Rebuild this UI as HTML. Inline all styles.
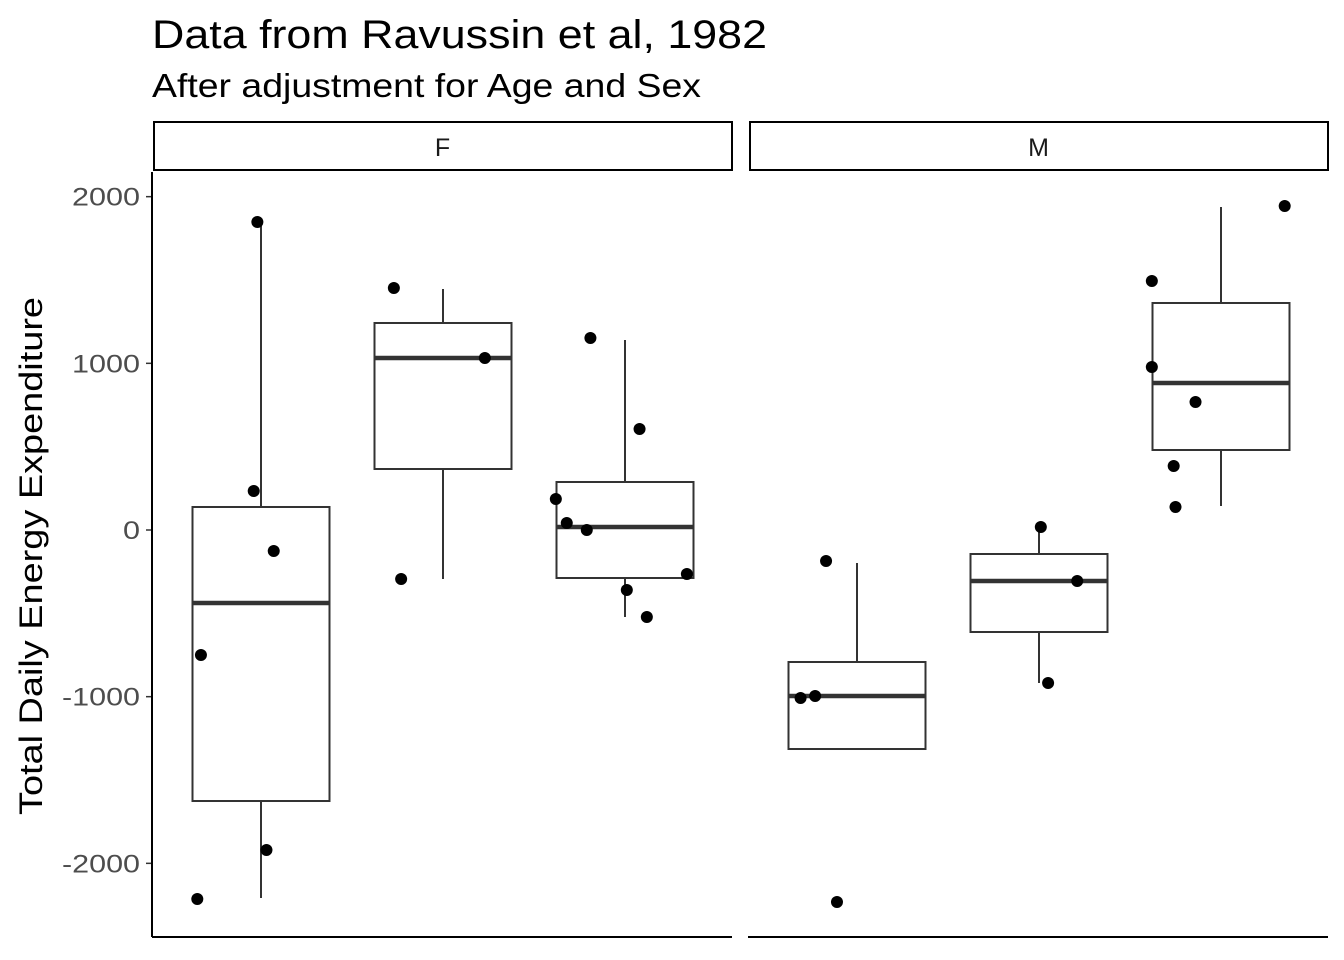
<!DOCTYPE html>
<html><head><meta charset="utf-8"><style>
html,body{margin:0;padding:0;background:#fff;}
svg{display:block;font-family:"Liberation Sans",Arial,sans-serif;}
</style></head><body>
<svg id="chart" width="1344" height="960" viewBox="0 0 1344 960">
<text x="152" y="48" font-size="40" textLength="615" lengthAdjust="spacingAndGlyphs" fill="#000">Data from Ravussin et al, 1982</text>
<text x="152" y="97" font-size="33" textLength="549" lengthAdjust="spacingAndGlyphs" fill="#000">After adjustment for Age and Sex</text>
<text transform="translate(42,556) rotate(-90)" text-anchor="middle" font-size="32" textLength="518" lengthAdjust="spacingAndGlyphs" fill="#000">Total Daily Energy Expenditure</text>
<g id="plot"></g>
</svg>
<script>
const panels = ["F","M"];
const yTicks = [2000,1000,0,-1000,-2000];
// per panel: 3 boxes each [lowerWhisker, q1, median, q3, upperWhisker]
const boxesF = [[-2208,-1626,-438,138,1848],[-294,366,1032,1242,1446],[-522,-288,18,288,1140]];
const boxesM = [[-1314,-1314,-996,-792,-198],[-918,-612,-306,-144,18],[144,480,882,1362,1938]];
// points: [group, jitter (category units), value]
const pointsF = [[0,-0.02,1848],[0,-0.04,234],[0,0.07,-126],[0,-0.33,-750],[0,0.03,-1920],[0,-0.35,-2214],
 [1,-0.27,1452],[1,0.23,1032],[1,-0.23,-294],
 [2,-0.19,1152],[2,0.08,606],[2,-0.38,186],[2,-0.32,42],[2,-0.21,0],[2,0.01,-360],[2,0.12,-522],[2,0.34,-264]];
const pointsM = [[0,-0.17,-186],[0,-0.31,-1008],[0,-0.23,-996],[0,-0.11,-2232],
 [1,0.01,18],[1,0.21,-306],[1,0.05,-918],
 [2,0.35,1944],[2,-0.38,1494],[2,-0.38,978],[2,-0.14,768],[2,-0.26,384],[2,-0.25,138]];

const NS="http://www.w3.org/2000/svg";
const g=document.getElementById('plot');
function mk(tag,attrs,parent){const e=document.createElementNS(NS,tag);for(const k in attrs)e.setAttribute(k,attrs[k]);(parent||g).appendChild(e);return e;}
const y=v=>530-v*0.16667;
const panelX=[153,749], panelW=579, step=182, boxW=137;
const xCat=(p,i)=>panelX[p]+108+i*step;

// y axis
yTicks.forEach(t=>{
  const tk=mk('line',{x1:146,x2:152,y1:y(t),y2:y(t),stroke:'#333','stroke-width':1.5});
  
  
  const s=String(t);
  const lb=mk('text',{x:140,y:y(t)+9,'text-anchor':'end','font-size':25,fill:'#4d4d4d',textLength:s.length*17-(t<0?7:0),lengthAdjust:'spacingAndGlyphs'});
  lb.textContent=s;
  
  
});
const ya=mk('line',{x1:152,x2:152,y1:172,y2:937,stroke:'#000','stroke-width':2});



[boxesF,boxesM].forEach((boxes,p)=>{
  const px=panelX[p];
  const st=mk('rect',{x:px+1,y:122,width:panelW-1,height:48,fill:'#fff',stroke:'#000','stroke-width':2});
  
  
  const sl=mk('text',{x:px+panelW/2,y:156,'text-anchor':'middle','font-size':25,fill:'#1a1a1a'});
  sl.textContent=panels[p];
  
  
  const xa=mk('line',{x1:px-1,x2:px+panelW,y1:937,y2:937,stroke:'#000','stroke-width':2});
  
  
  boxes.forEach((b,i)=>{
    const cx=xCat(p,i);
    const grp=mk('g',{});
    
    
    if(b[0]<b[1]) mk('line',{x1:cx,x2:cx,y1:y(b[1]),y2:y(b[0]),stroke:'#333','stroke-width':2},grp);
    mk('line',{x1:cx,x2:cx,y1:y(b[3]),y2:y(b[4]),stroke:'#333','stroke-width':2},grp);
    mk('rect',{x:cx-boxW/2,y:y(b[3]),width:boxW,height:y(b[1])-y(b[3]),fill:'#fff',stroke:'#333','stroke-width':2},grp);
    mk('line',{x1:cx-boxW/2,x2:cx+boxW/2,y1:y(b[2]),y2:y(b[2]),stroke:'#333','stroke-width':4.5},grp);
  });
});
[pointsF,pointsM].forEach((pts,p)=>{
  pts.forEach(d=>{
    const c=mk('circle',{cx:xCat(p,d[0])+d[1]*step,cy:y(d[2]),r:6,fill:'#000'});
    
    
  });
});
</script>
</body></html>
